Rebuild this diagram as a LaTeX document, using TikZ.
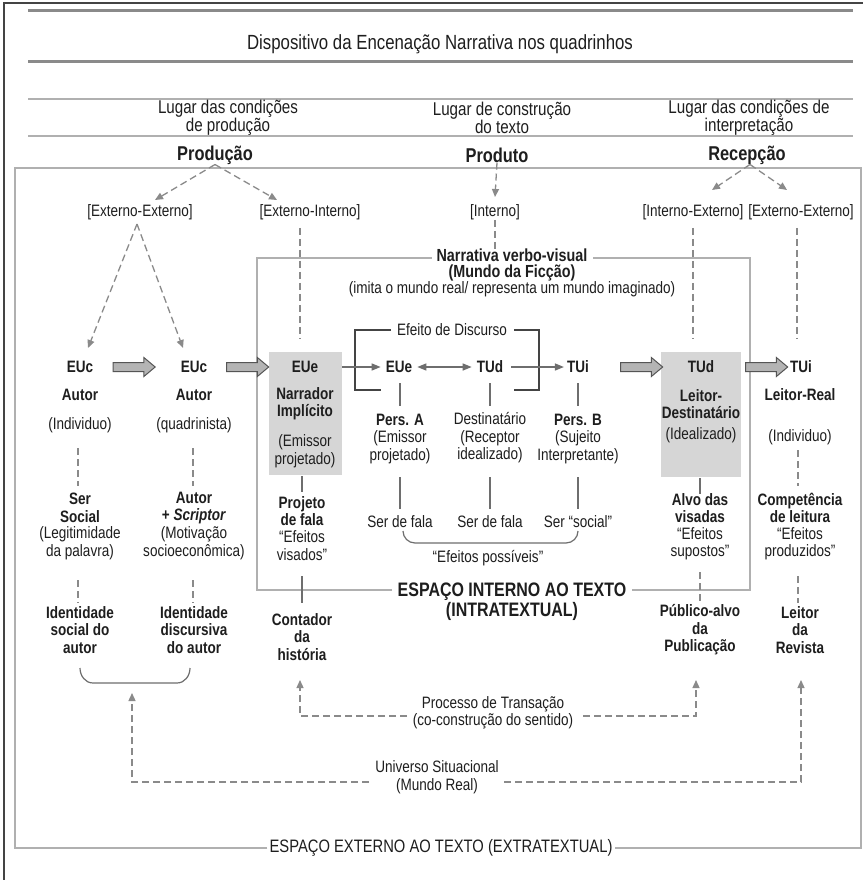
\documentclass[tikz,border=0pt]{standalone}
\usepackage{fontspec}
\setmainfont{Liberation Sans}[FakeStretch=0.82]
\usetikzlibrary{arrows.meta,shapes.arrows,calc}
\definecolor{txt}{HTML}{1E1E1E}
\definecolor{lnc}{HTML}{8A8A8A}
\definecolor{frm}{HTML}{B0B0B0}
\definecolor{boxf}{HTML}{D6D6D6}
\definecolor{arf}{HTML}{B4B4B4}
\definecolor{ard}{HTML}{555555}
\definecolor{sln}{HTML}{6E6E6E}
\definecolor{brd}{HTML}{444444}
\begin{document}
\begin{tikzpicture}[x=1pt,y=-1pt,
  every node/.style={text=txt, inner sep=0pt, align=center},
  rg/.style={font=\fontsize{16.5}{17.5}\selectfont},
  bd/.style={font=\fontsize{16.5}{17.5}\selectfont\bfseries},
  hd/.style={font=\fontsize{18.5}{16}\selectfont},
  hb/.style={font=\fontsize{20}{20}\selectfont\bfseries},
  tt/.style={font=\fontsize{20.5}{20}\selectfont},
  nv/.style={font=\fontsize{17.5}{16.5}\selectfont\bfseries},
  esp/.style={font=\fontsize{19.5}{20}\selectfont\bfseries},
  esx/.style={font=\fontsize{18}{20}\selectfont},
  dar/.style={draw=lnc, line width=1.3pt, dash pattern=on 7pt off 4pt, -{Triangle[length=8pt,width=7pt]}},
  dln/.style={draw=lnc, line width=1.3pt, dash pattern=on 7pt off 4pt},
  sol/.style={draw=sln, line width=1.2pt},
  sar/.style={draw=sln, line width=1.4pt, -{Triangle[length=9pt,width=7pt]}},
  frame/.style={draw=frm, line width=1.5pt},
  gbox/.style={fill=boxf, draw=none},
  blk/.style={single arrow, draw=ard, fill=arf, line width=1pt, minimum height=42pt,
    inner xsep=0pt, inner ysep=4pt, single arrow head extend=5pt, single arrow tip angle=80}
]
\useasboundingbox (0,0) rectangle (863,880);
\fill[white] (0,0) rectangle (863,880);
% outer border
\draw[draw=brd, line width=1.6pt] (4,880) -- (4,3) -- (863,3);
% top rules
\draw[draw=lnc, line width=3pt] (28,11) -- (853,11);
\draw[draw=lnc, line width=3pt] (28,62) -- (853,62);
\draw[draw=frm, line width=1.6pt] (28,99) -- (853,99);
\draw[draw=frm, line width=1.6pt] (28,136) -- (853,136);

\node[tt] (title) at (440,44) {Dispositivo da Encenação Narrativa nos quadrinhos};
\node[hd] (lug1) at (228,118) {Lugar das condições\\de produção};
\node[hd] (lug2) at (502,118) {Lugar de construção\\do texto};
\node[hd] (lug3) at (749,118) {Lugar das condições de\\interpretação};
\node[hb] (prod) at (215,155) {Produção};
\node[hb] (produto) at (497,155) {Produto};
\node[hb] (recep) at (747,155) {Recepção};

% outer (extratextual) frame
\node[esx] (esext) at (441,848) {ESPAÇO EXTERNO AO TEXTO (EXTRATEXTUAL)};
\draw[frame] ($(esext.west)+(-2,0)$) -| (15,168) -| (861,848) -- ($(esext.east)+(2,0)$);

% second-level labels
\node[rg] (ee1) at (140,212) {[Externo-Externo]};
\node[rg] (ei) at (310,212) {[Externo-Interno]};
\node[rg] (int) at (495,212) {[Interno]};
\node[rg] (ie) at (693,212) {[Interno-Externo]};
\node[rg] (ee2) at (801,212) {[Externo-Externo]};

\coordinate (tee1) at (155,200);
\coordinate (tei) at (277,200);
\coordinate (tie) at (712,190);
\coordinate (tee2) at (787,190);
\coordinate (tint) at (495,197);
\draw[dar] (prod.south) -- (tee1);
\draw[dar] (prod.south) -- (tei);
\draw[dar] ($(recep.south)+(3,0)$) -- (tie);
\draw[dar] ($(recep.south)+(3,0)$) -- (tee2);
\draw[dar] (produto.south) -- (tint);

% narrative frame
\node[nv] (narr) at (512,265) {Narrativa verbo-visual\\(Mundo da Ficção)};
\node[rg] (imita) at (512,289) {(imita o mundo real/ representa um mundo imaginado)};
\node[esp] (espint) at (512,602) {ESPAÇO INTERNO AO TEXTO\\(INTRATEXTUAL)};
\coordinate (nfl) at (432,258);
\coordinate (nfr) at (593,258);
\coordinate (nbl) at (392,590);
\coordinate (nbr) at (632,590);
\draw[frame] (nbl) -| (257,258) -- (nfl);
\draw[frame] (nfr) -| (750,590) -- (nbr);
\draw[dln] (int.south) -- ($(narr.north)+(-17,2)$);

% gray boxes
\fill[gbox] (269,352) rectangle (342,475);
\fill[gbox] (661,352) rectangle (741,477);

% ---- column 1
\node[bd] (euc1) at (80,367) {EUc};
\node[bd] (aut1) at (80,395) {Autor};
\node[rg] (ind1) at (80,425) {(Individuo)};
\node[bd] (ser) at (80,508) {Ser\\Social};
\node[rg] (leg) at (80,543) {(Legitimidade\\da palavra)};
\node[bd] (ids) at (80,630) {Identidade\\social do\\autor};
% ---- column 2
\node[bd] (euc2) at (194,367) {EUc};
\node[bd] (aut2) at (194,395) {Autor};
\node[rg] (quad) at (194,425) {(quadrinista)};
\node[bd] (scr) at (194,508) {Autor\\+ \textit{Scriptor}};
\node[rg] (mot) at (194,543) {(Motivação\\socioeconômica)};
\node[bd] (idd) at (194,630) {Identidade\\discursiva\\do autor};

\coordinate (c1a) at (137,224);
\coordinate (t1) at (88,348);
\coordinate (t2) at (183,348);
\draw[dar] (c1a) -- (t1);
\draw[dar] (c1a) -- (t2);
\draw[dln] (78,448) -- (78,486);
\draw[dln] (78,580) -- (78,603);
\draw[dln] (193,448) -- (193,486);
\draw[dln] (193,580) -- (193,603);
\draw[dln] (ei.south) ++(-10,8) -- (300,338);

% block arrows
\node[blk] (ba1) at (131.5,367) {};
\node[blk] (ba2) at (245,367) {};
\node[blk] (ba3) at (639,367) {};
\node[blk] (ba4) at (764,367) {};

% ---- column 3 (box)
\node[bd] (eue1) at (305,367) {EUe};
\node[bd] (narrad) at (305,403.5) {Narrador\\Implícito};
\node[rg] (emi1) at (305,451) {(Emissor\\projetado)};
\node[bd] (proj) at (302,511) {Projeto\\de fala};
\node[rg] (efv) at (302,545.5) {“Efeitos\\visados”};
\node[bd] (cont) at (302,637) {Contador\\da\\história};
\draw[sol] (302,476) -- (302,492);
\draw[sol] (302,576) -- (302,603);

% ---- middle
\node[rg] (efd) at (452,330) {Efeito de Discurso};
\draw[draw=brd, line width=1.4pt] ($(efd.west)+(-6,0)$) -- (355,330) -- (355,390) -- (381,390);
\draw[draw=brd, line width=1.4pt] ($(efd.east)+(7,0)$) -- (539,330) -- (539,390) -- (514,390);

\node[bd] (eue2) at (399,367) {EUe};
\node[bd] (tud1) at (490,367) {TUd};
\node[bd] (tui1) at (578,367) {TUi};
\coordinate (boxe) at (342,367);
\draw[sar] (boxe) -- ($(eue2.west)+(-5,0)$);
\draw[draw=sln, line width=1.4pt, {Triangle[length=9pt,width=7pt]}-{Triangle[length=9pt,width=7pt]}] ($(eue2.east)+(5,0)$) -- ($(tud1.west)+(-5,0)$);
\draw[sar] ($(tud1.east)+(8,0)$) -- ($(tui1.west)+(-3,0)$);

\node[bd] (persa) at (400,420) {Pers. A};
\node[rg] (emi2) at (400,447) {(Emissor\\projetado)};
\node[rg] (dest) at (490,438) {Destinatário\\(Receptor\\idealizado)};
\node[bd] (persb) at (578,420) {Pers. B};
\node[rg] (suj) at (578,447) {(Sujeito\\Interpretante)};
\node[rg] (sf1) at (400,522) {Ser de fala};
\node[rg] (sf2) at (490,522) {Ser de fala};
\node[rg] (sf3) at (578,522) {Ser “social”};
\foreach \xx in {400,490,578}{
  \draw[sol] (\xx,383) -- (\xx,406);
  \draw[sol] (\xx,477) -- (\xx,509);
}
\draw[sol] (403,531) to[out=-90,in=180] (415,543) -- (566,543) to[out=0,in=-90] (578,531);
\node[rg] (efp) at (488,558) {“Efeitos possíveis”};

% ---- column 7 (box right)
\node[bd] (tud2) at (701,367) {TUd};
\node[bd] (leid) at (701,404) {Leitor-\\Destinatário};
\node[rg] (ideal) at (701,435) {(Idealizado)};
\node[bd] (alvo) at (700,508) {Alvo das\\visadas};
\node[rg] (efs) at (700,543.5) {“Efeitos\\supostos”};
\node[bd] (pub) at (700,630) {Público-alvo\\da\\Publicação};
\draw[sol] (700,478) -- (700,494);
\draw[dln] (700,572) -- (700,603);
\draw[dln] (ie.south) ++(0,8) -- (693,338);

% ---- column 8
\node[bd] (tui2) at (801,367) {TUi};
\node[bd] (lreal) at (800,395) {Leitor-Real};
\node[rg] (ind2) at (800,437) {(Individuo)};
\node[bd] (comp) at (800,508) {Competência\\de leitura};
\node[rg] (efpr) at (800,543.5) {“Efeitos\\produzidos”};
\node[bd] (leit) at (800,630) {Leitor\\da\\Revista};
\draw[dln] (798,450) -- (798,486);
\draw[dln] (798,576) -- (798,603);
\draw[dln] (ee2.south) ++(-4,8) -- (797,338);

% brace under left columns
\draw[sol] (80,668) to[out=-90,in=180] (93,683) -- (177,683) to[out=0,in=-90] (190,668);

% bottom transactions
\node[rg] (proc) at (493,713) {Processo de Transação\\(co-construção do sentido)};
\node[rg] (univ) at (437,777) {Universo Situacional\\(Mundo Real)};
\coordinate (pl) at (300,680);
\coordinate (pr) at (696,680);
\coordinate (ul) at (132,693);
\coordinate (ur) at (801,680);
\draw[dar] (407,716) -| (pl);
\draw[dar] (583,716) -| (pr);
\draw[dar] (369,782) -| (ul);
\draw[dar] (504,782) -| (ur);
\end{tikzpicture}
\end{document}
